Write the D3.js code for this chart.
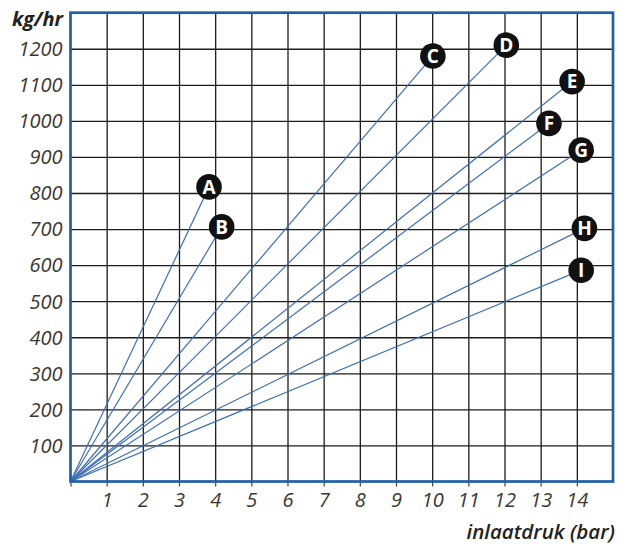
<!DOCTYPE html>
<html lang="nl">
<head>
    <meta charset="UTF-8">
    <title>kg/hr - inlaatdruk</title>
    <style>
        body { margin: 0; background: #fff; }
        svg text { font-family: "Open Sans", "Noto Sans", sans-serif; }
    </style>
</head>
<body>
<script src="https://cdnjs.cloudflare.com/ajax/libs/d3/7.8.5/d3.min.js"></script>
<script>
    // waarden
    let curveNames = ["A", "B", "C", "D", "E", "F", "G", "H", "I"];
    let endPressure = [3.83, 4.18, 10.02, 12.05, 13.87, 13.23, 14.12, 14.21, 14.12];
    let endFlow = [817, 706, 1180, 1210, 1109, 993, 919, 702, 586];
    let xTicks = [1, 2, 3, 4, 5, 6, 7, 8, 9, 10, 11, 12, 13, 14];
    let yTicks = [100, 200, 300, 400, 500, 600, 700, 800, 900, 1000, 1100, 1200];

    let w = 617, h = 544;
    let inner = {left: 70.5, right: 4, top: 12.7, bottom: 62.5};

    let svg = d3.select("body")
        .append("svg")
        .attr("width", w)
        .attr("height", h);

    let x = d3.scaleLinear().domain([0, 15]).range([inner.left, w - inner.right]);
    let y = d3.scaleLinear().domain([0, 1300]).range([h - inner.bottom, inner.top]);

    const labelColor = "#3b3834";

    // raster
    svg.append("g")
        .attr("transform", "translate(0," + y(0) + ")")
        .call(d3.axisBottom(x).tickValues(xTicks).tickSize(-(y(0) - y(1300))).tickFormat(""))
        .call(g => g.select(".domain").remove())
        .selectAll("line")
        .attr("stroke", "#1c1c1c")
        .attr("stroke-width", 1.3);

    svg.append("g")
        .attr("transform", "translate(" + x(0) + ",0)")
        .call(d3.axisLeft(y).tickValues(yTicks).tickSize(-(x(15) - x(0))).tickFormat(""))
        .call(g => g.select(".domain").remove())
        .selectAll("line")
        .attr("stroke", "#1c1c1c")
        .attr("stroke-width", 1.3);

    // x-as met kleine streepjes en getallen
    let xAxis = svg.append("g")
        .attr("transform", "translate(0," + y(0) + ")")
        .call(d3.axisBottom(x).tickValues([0].concat(xTicks)).tickSize(5).tickPadding(6)
            .tickFormat(d => d === 0 ? "" : d));
    xAxis.select(".domain").remove();
    xAxis.selectAll("line").attr("stroke", "#444").attr("stroke-width", 1.2);
    xAxis.selectAll("text")
        .attr("fill", labelColor)
        .style("font-size", "20px")
        .style("font-style", "italic");

    // y-as getallen
    let yAxis = svg.append("g")
        .attr("transform", "translate(" + x(0) + ",0)")
        .call(d3.axisLeft(y).tickValues(yTicks).tickSize(0).tickPadding(8).tickFormat(d3.format("d")));
    yAxis.select(".domain").remove();
    yAxis.selectAll("text")
        .attr("fill", labelColor)
        .attr("dy", "0.34em")
        .style("font-size", "20px")
        .style("font-style", "italic");

    // lijnen vanuit de oorsprong
    svg.selectAll(".curve")
        .data(curveNames)
        .enter()
        .append("line")
        .attr("class", "curve")
        .attr("x1", x(0))
        .attr("y1", y(0))
        .attr("x2", (d, i) => x(endPressure[i]))
        .attr("y2", (d, i) => y(endFlow[i]))
        .attr("stroke", "#3f6fb4")
        .attr("stroke-width", 1.2);

    // kader
    svg.append("rect")
        .attr("x", x(0))
        .attr("y", y(1300))
        .attr("width", x(15) - x(0))
        .attr("height", y(0) - y(1300))
        .attr("fill", "none")
        .attr("stroke", "#1f5fa8")
        .attr("stroke-width", 2.7);

    // letters
    let marks = svg.selectAll(".mark")
        .data(curveNames)
        .enter()
        .append("g")
        .attr("class", "mark")
        .attr("transform", (d, i) => "translate(" + x(endPressure[i]) + "," + y(endFlow[i]) + ")");

    marks.append("circle")
        .attr("r", 12.8)
        .attr("fill", "#111");

    marks.append("text")
        .text(d => d)
        .attr("text-anchor", "middle")
        .attr("dy", "0.36em")
        .attr("fill", "#fff")
        .style("font-size", "19px")
        .style("font-weight", "bold");

    // astitels
    svg.append("text")
        .text("kg/hr")
        .attr("x", 63)
        .attr("y", 26)
        .attr("text-anchor", "end")
        .attr("fill", "#222")
        .style("font-size", "20px")
        .style("font-weight", "bold")
        .style("font-style", "italic");

    svg.append("text")
        .text("inlaatdruk (bar)")
        .attr("x", 615)
        .attr("y", 539)
        .attr("text-anchor", "end")
        .attr("fill", "#222")
        .style("font-size", "20.5px")
        .style("font-weight", "600")
        .style("font-style", "italic");
</script>
</body>
</html>
